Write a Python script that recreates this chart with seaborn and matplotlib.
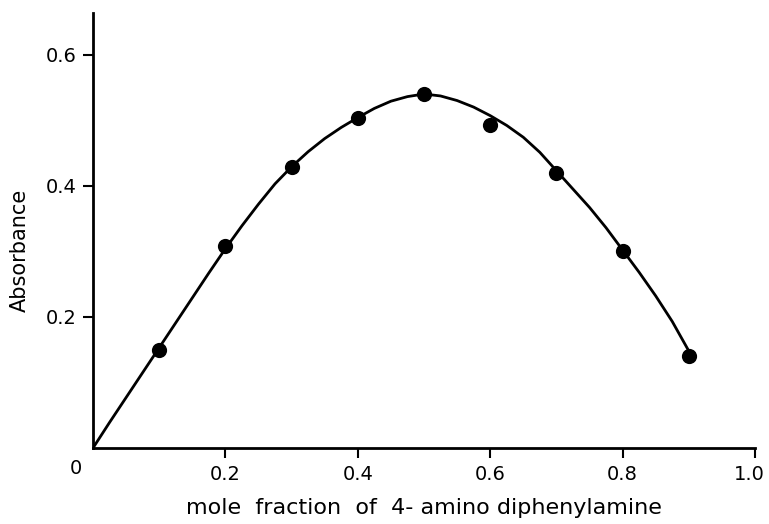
import matplotlib
matplotlib.use("Agg")
import matplotlib.pyplot as plt
import matplotlib.transforms as mtransforms
import seaborn as sns
import pandas as pd

# measured points
mole_fraction = [0.1, 0.2, 0.3, 0.4, 0.5, 0.6, 0.7, 0.8, 0.9]
absorbance = [0.150, 0.308, 0.429, 0.503, 0.540, 0.492, 0.420, 0.300, 0.141]

# smooth curve
curve_x = [0.0, 0.025, 0.05, 0.075, 0.1, 0.125, 0.15, 0.175, 0.2, 0.225,
           0.25, 0.275, 0.3, 0.325, 0.35, 0.375, 0.4, 0.425, 0.45, 0.475,
           0.5, 0.525, 0.55, 0.575, 0.6, 0.625, 0.65, 0.675, 0.7, 0.725,
           0.75, 0.775, 0.8, 0.825, 0.85, 0.875, 0.9]
curve_y = [0.0, 0.039, 0.077, 0.115, 0.153, 0.191, 0.229, 0.267, 0.304, 0.339,
           0.372, 0.403, 0.429, 0.452, 0.472, 0.489, 0.504, 0.518, 0.529, 0.536,
           0.540, 0.537, 0.530, 0.520, 0.507, 0.492, 0.474, 0.451, 0.423, 0.395,
           0.367, 0.336, 0.302, 0.268, 0.232, 0.193, 0.148]

x_ticks = [0.2, 0.4, 0.6, 0.8, 1.0]
x_tick_labels = ["0.2", "0.4", "0.6", "0.8", "1.0"]
y_ticks = [0.2, 0.4, 0.6]
y_tick_labels = ["0.2", "0.4", "0.6"]

sns.set_style("ticks")
plt.rcParams['font.family'] = ['DejaVu Sans']
plt.rcParams['text.color'] = 'black'
plt.rcParams['axes.labelcolor'] = 'black'
plt.rcParams['xtick.color'] = 'black'
plt.rcParams['ytick.color'] = 'black'

fig = plt.figure(figsize=(7.69, 5.24), dpi=100)
ax = fig.add_axes([93/769, 1 - 448/524, (755 - 93)/769, (448 - 12.7)/524])

pts = pd.DataFrame({"x": mole_fraction, "y": absorbance})
crv = pd.DataFrame({"x": curve_x, "y": curve_y})

sns.lineplot(data=crv, x="x", y="y", ax=ax, color="black", linewidth=2.0,
             sort=False, estimator=None)
sns.scatterplot(data=pts, x="x", y="y", ax=ax, color="black", s=120,
                edgecolor="black", linewidth=0, zorder=5)

ax.set_xlim(0, 1.0)
ax.set_ylim(0, 0.664)
ax.set_xticks(x_ticks)
ax.set_xticklabels(x_tick_labels, fontsize=14)
ax.set_yticks(y_ticks)
ax.set_yticklabels(y_tick_labels, fontsize=14)
ax.tick_params(axis="both", direction="out", length=7, width=1.5, colors="black", pad=5)

# nudge the last x tick label slightly left so it stays inside the canvas
last = ax.get_xticklabels()[-1]
last.set_transform(last.get_transform() +
                   mtransforms.ScaledTranslation(-4/72, 0, fig.dpi_scale_trans))

for side in ["top", "right"]:
    ax.spines[side].set_visible(False)
for side in ["left", "bottom"]:
    ax.spines[side].set_linewidth(2.0)
    ax.spines[side].set_color("black")

ax.text(-0.026, -0.031, "0", transform=ax.transData, ha="center", va="center",
        fontsize=14, color="black")

ax.set_xlabel("mole  fraction  of  4- amino diphenylamine", fontsize=16, labelpad=10,
              color="black")
ax.set_ylabel("Absorbance", fontsize=15, color="black")
ax.yaxis.set_label_coords(-0.095, 0.455)

fig.savefig("out.png", dpi=100)
